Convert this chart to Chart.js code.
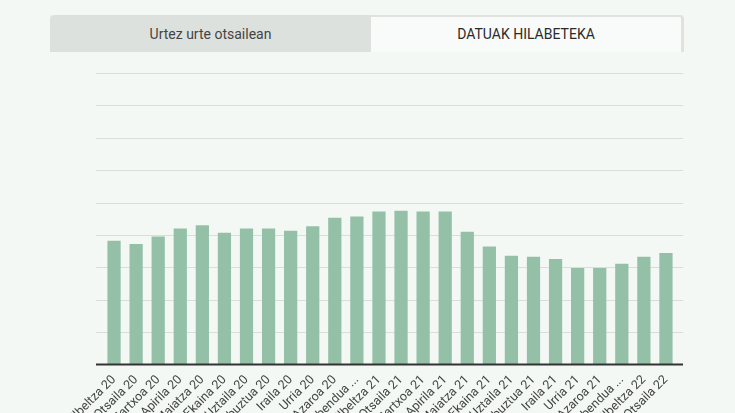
<!DOCTYPE html>
<html>
<head>
<meta charset="utf-8">
<script src="https://cdn.jsdelivr.net/npm/chart.js@4"></script>
<style>
  html, body { margin: 0; padding: 0; background: #f4f8f5; overflow: hidden; }
  body { width: 735px; height: 413px; position: relative; font-family: Roboto, sans-serif; }
  .tabs { position: absolute; left: 50px; top: 15px; width: 634px; height: 37px; display: flex; }
  .tab { height: 37px; line-height: 39px; text-align: center; font-size: 14px; box-sizing: border-box; }
  .tab.off { width: 321px; background: #dde1de; color: #444; border-radius: 4px 0 0 0; }
  .tab.on { width: 313px; background: #f8fbf9; color: #2b2b2b; border-top: 2px solid #dfe2df; border-right: 3px solid #dfe2df; border-radius: 0 4px 0 0; line-height: 35px; }
  #wrap { position: absolute; left: 0; top: 0; width: 735px; height: 428px; }
</style>
</head>
<body>
<div class="tabs">
  <div class="tab off">Urtez urte otsailean</div>
  <div class="tab on">DATUAK HILABETEKA</div>
</div>
<div id="wrap"><canvas id="myChart"></canvas></div>
<script>
const months = [
  "Ilbeltza 20", "Otsaila 20", "Martxoa 20", "Apirila 20", "Maiatza 20", "Ekaina 20",
  "Uztaila 20", "Abuztua 20", "Iraila 20", "Urria 20", "Azaroa 20", "Abendua ...",
  "Ilbeltza 21", "Otsaila 21", "Martxoa 21", "Apirila 21", "Maiatza 21", "Ekaina 21",
  "Uztaila 21", "Abuztua 21", "Iraila 21", "Urria 21", "Azaroa 21", "Abendua ...",
  "Ilbeltza 22", "Otsaila 22"
];
const values = [
  38.2, 37.2, 39.5, 42.0, 43.0, 40.7, 42.0, 42.0, 41.3, 42.7, 45.3, 45.7,
  47.2, 47.5, 47.2, 47.2, 41.0, 36.4, 33.6, 33.3, 32.6, 29.8, 29.8, 31.1,
  33.3, 34.4
];
const yMax = 90;
const yStep = 10;

// grid lines + baseline a bit wider than the bars
const gridPlugin = {
  id: "gridLines",
  beforeDatasetsDraw(chart) {
    const { ctx, chartArea, scales } = chart;
    ctx.save();
    ctx.strokeStyle = "#dadedb";
    ctx.lineWidth = 1.2;
    for (let v = yStep; v <= yMax; v += yStep) {
      const y = Math.round(scales.y.getPixelForValue(v)) + 0.5;
      ctx.beginPath();
      ctx.moveTo(chartArea.left - 7, y);
      ctx.lineTo(chartArea.right + 6, y);
      ctx.stroke();
    }
    ctx.restore();
  },
  afterDatasetsDraw(chart) {
    const { ctx, chartArea, scales } = chart;
    const y = scales.y.getPixelForValue(0);
    ctx.save();
    ctx.strokeStyle = "#333";
    ctx.lineWidth = 2;
    ctx.beginPath();
    ctx.moveTo(chartArea.left - 7, y);
    ctx.lineTo(chartArea.right + 6, y);
    ctx.stroke();
    ctx.restore();
  }
};

const ctx = document.getElementById("myChart");
new Chart(ctx, {
  type: "bar",
  data: {
    labels: months,
    datasets: [
      {
        data: values,
        backgroundColor: "#94c0a7",
        borderWidth: 0,
        barPercentage: 0.6,
        categoryPercentage: 1.0,
      },
    ],
  },
  options: {
    responsive: true,
    maintainAspectRatio: false,
    animation: false,
    layout: { padding: { left: 103, right: 58, top: 73, bottom: 0 } },
    plugins: { legend: { display: false }, tooltip: { enabled: false } },
    scales: {
      x: {
        grid: { display: false },
        border: { display: false },
        ticks: {
          color: "#444",
          font: { family: "Roboto", size: 12.5 },
          autoSkip: false,
          minRotation: 45,
          maxRotation: 45,
          padding: 0,
        },
      },
      y: {
        display: false,
        min: 0,
        max: yMax,
      },
    },
  },
  plugins: [gridPlugin],
});
</script>
</body>
</html>
